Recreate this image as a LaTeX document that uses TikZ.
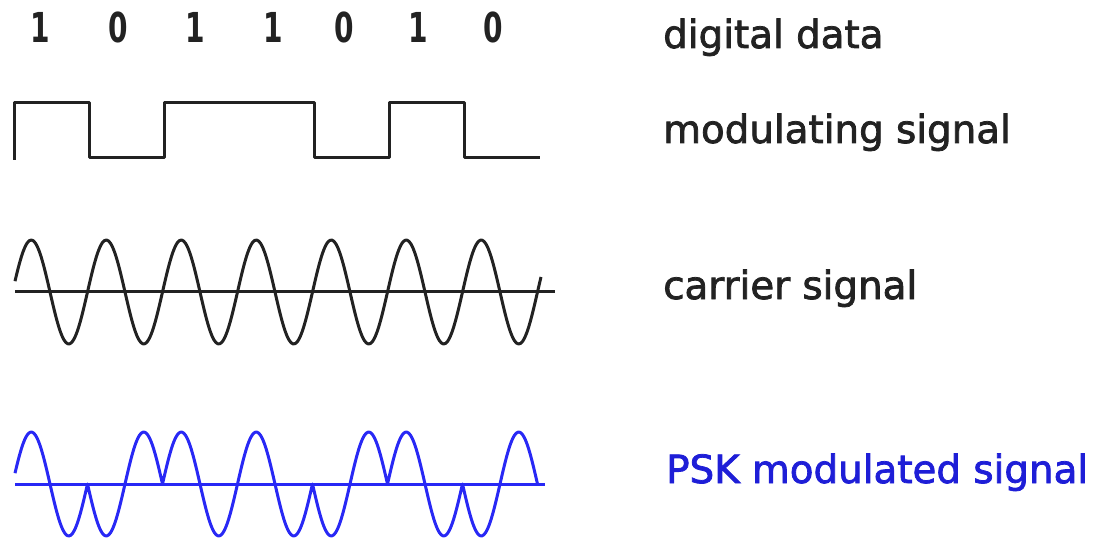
\documentclass[tikz,border=0pt]{standalone}
\usepackage{fontspec}
\setmainfont{DejaVu Sans}
\newfontfamily\lblfont[FakeBold=2]{DejaVu Sans}
\usepackage{graphicx}
\definecolor{sigdark}{RGB}{34,34,34}
\definecolor{pskblue}{RGB}{40,40,245}
\definecolor{psktext}{RGB}{30,30,215}
\usetikzlibrary{positioning}

\begin{document}
\begin{tikzpicture}[x=1pt, y=-1pt,
  wave/.style={line width=3pt, line join=round, sigdark},
  pskwave/.style={line width=3pt, line join=round, pskblue},
  lbl/.style={anchor=base west, inner sep=0pt, text=sigdark, font=\lblfont\fontsize{38.8}{40}\selectfont},
  bitlbl/.style={inner sep=0pt, text=sigdark, font=\fontsize{33}{35}\selectfont\bfseries}]
  \useasboundingbox (0,0) rectangle (1101,540);
  % Digital data
  \foreach \b/\x [count=\i] in {1/40,0/118,1/195,1/273,0/344,1/418,0/493}
    \node[bitlbl] (bit\i) at (\x,27) {\scalebox{0.85}[1.25]{\b}};
  \node[lbl] (lbldata) at (663,48) {digital data};
  % Modulating signal
  \draw[wave] (14,160) -- (14,103) -- (89,103) -- (89,158) -- (164,158) -- (164,103)
    -- (314,103) -- (314,158) -- (389,158) -- (389,103) -- (464,103) -- (464,158) -- (540,158);
  \node[lbl] (lblmod) at (663,143) {modulating signal};
  % Carrier signal (period 75, 360/75 = 4.8)
  \draw[wave] (15,292) -- (555,292);
  \draw[wave] plot[domain=15:541, samples=260, smooth] (\x,{292-52*sin(4.8*(\x-12.5))});
  \node[lbl] (lblcarrier) at (663,299) {carrier signal};
  % PSK modulated signal
  \draw[pskwave] (15,484) -- (545,484);
  \draw[pskwave] plot[domain=15:87.5, samples=40, smooth] (\x,{484-52*sin(4.8*(\x-12.5))})
    \foreach \s/\xa/\xb in {-1/87.5/162.5, 1/162.5/237.5, 1/237.5/312.5, -1/312.5/387.5, 1/387.5/462.5, -1/462.5/537.5} {
      -- plot[domain=\xa:\xb, samples=40, smooth] (\x,{484-52*\s*sin(4.8*(\x-12.5))})
    };
  \node[lbl, text=psktext] (lblpsk) at (666,483) {PSK modulated signal};
\end{tikzpicture}
\end{document}
